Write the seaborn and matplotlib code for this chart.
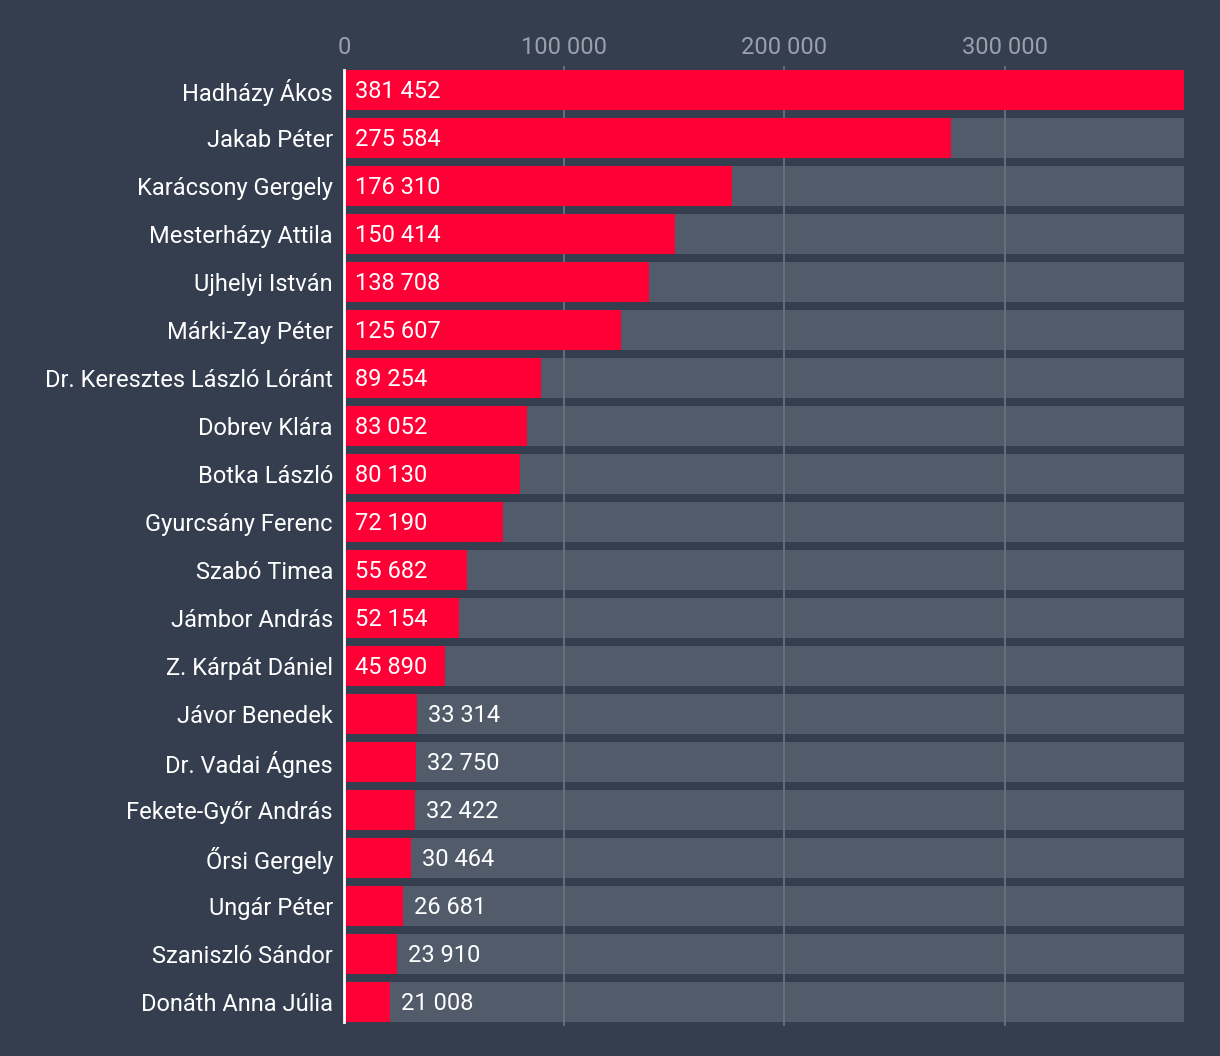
import matplotlib
matplotlib.use("Agg")
import matplotlib.pyplot as plt
import seaborn as sns
import pandas as pd

names = [
    "Hadházy Ákos", "Jakab Péter", "Karácsony Gergely", "Mesterházy Attila",
    "Ujhelyi István", "Márki-Zay Péter", "Dr. Keresztes László Lóránt",
    "Dobrev Klára", "Botka László", "Gyurcsány Ferenc", "Szabó Timea",
    "Jámbor András", "Z. Kárpát Dániel", "Jávor Benedek", "Dr. Vadai Ágnes",
    "Fekete-Győr András", "Őrsi Gergely", "Ungár Péter", "Szaniszló Sándor",
    "Donáth Anna Júlia",
]
votes = [381452, 275584, 176310, 150414, 138708, 125607, 89254, 83052, 80130,
         72190, 55682, 52154, 45890, 33314, 32750, 32422, 30464, 26681, 23910,
         21008]
ticks = [0, 100000, 200000, 300000]

bg = "#343e4f"
track = "#515b6a"
red = "#ff0036"
grid = "#69717e"

sns.set_style("white")
plt.rcParams["font.family"] = ["Roboto", "DejaVu Sans"]

df = pd.DataFrame({"name": names, "votes": votes})
df["track"] = max(votes)

fig = plt.figure(figsize=(12.2, 10.56), dpi=100, facecolor=bg)
ax = fig.add_axes([344 / 1220, 1 - 1026 / 1056, 840 / 1220, 960 / 1056])
ax.set_facecolor(bg)

# grey tracks, grid, then the red bars on top
sns.barplot(data=df, x="track", y="name", orient="h", color=track,
            saturation=1, width=0.833, linewidth=0, ax=ax, zorder=1)
for t in ticks[1:]:
    ax.axvline(t, color=grid, lw=1.3, zorder=1.5)
sns.barplot(data=df, x="votes", y="name", orient="h", color=red,
            saturation=1, width=0.833, linewidth=0, ax=ax, zorder=2)

ax.set_xlim(0, max(votes))
ax.set_ylim(19.5, -0.5)

for i, v in enumerate(votes):
    lab = f"{v:,}".replace(",", " ")
    x = 5000 if v > 40000 else v + 5000
    ax.text(x, i - 0.03, lab, color="white", va="center_baseline", ha="left",
            fontsize=17, zorder=3)

ax.xaxis.tick_top()
ax.set_xticks(ticks)
ax.set_xticklabels([f"{t:,}".replace(",", " ") for t in ticks])
ax.tick_params(axis="x", length=0, pad=5, labelsize=17, labelcolor="#9aa1ac")
ax.tick_params(axis="y", length=0, pad=8, labelsize=17, labelcolor="white")
ax.set_xlabel("")
ax.set_ylabel("")
for s in ["top", "right", "bottom"]:
    ax.spines[s].set_visible(False)
ax.spines["left"].set_color("white")
ax.spines["left"].set_linewidth(2)
ax.spines["left"].set_bounds(-0.417, 19.417)
ax.spines["left"].set_zorder(4)

fig.savefig("out.png", facecolor=bg)
